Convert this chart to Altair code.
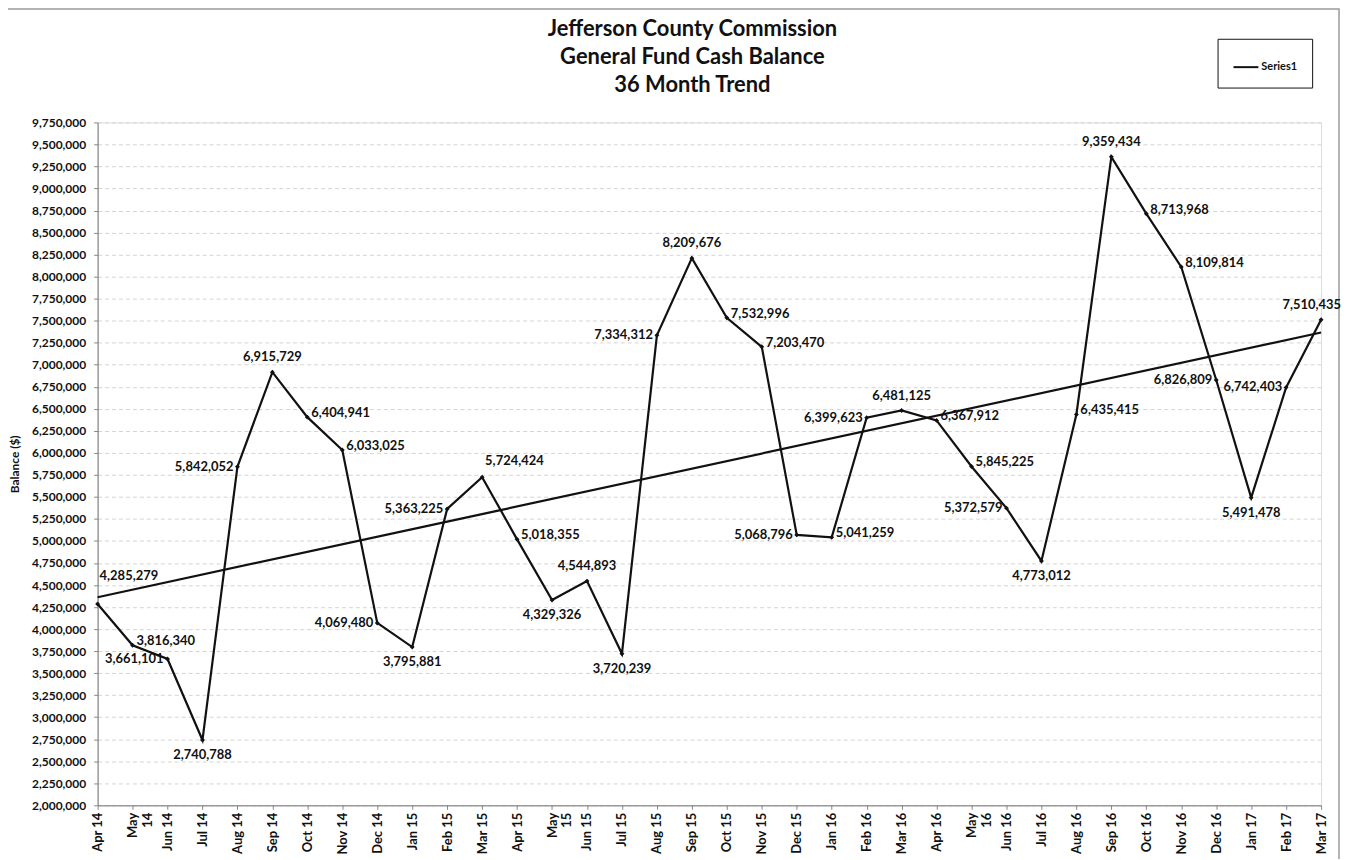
import altair as alt
import pandas as pd

months = ["Apr 14", "May 14", "Jun 14", "Jul 14", "Aug 14", "Sep 14", "Oct 14", "Nov 14",
          "Dec 14", "Jan 15", "Feb 15", "Mar 15", "Apr 15", "May 15", "Jun 15", "Jul 15",
          "Aug 15", "Sep 15", "Oct 15", "Nov 15", "Dec 15", "Jan 16", "Feb 16", "Mar 16",
          "Apr 16", "May 16", "Jun 16", "Jul 16", "Aug 16", "Sep 16", "Oct 16", "Nov 16",
          "Dec 16", "Jan 17", "Feb 17", "Mar 17"]

balance = [4285279, 3816340, 3661101, 2740788, 5842052, 6915729, 6404941, 6033025,
           4069480, 3795881, 5363225, 5724424, 5018355, 4329326, 4544893, 3720239,
           7334312, 8209676, 7532996, 7203470, 5068796, 5041259, 6399623, 6481125,
           6367912, 5845225, 5372579, 4773012, 6435415, 9359434, 8713968, 8109814,
           6826809, 5491478, 6742403, 7510435]

# where each data label sits relative to its point
label_side = ["high", "right", "left", "below", "left", "above", "right", "right",
              "left", "below", "left", "aboveright", "right", "below", "above", "below",
              "left", "above", "right", "right", "left", "right", "left", "above",
              "right", "right", "left", "below", "right", "above", "right", "right",
              "left", "below", "left", "aboveleft"]

series_name = "Series1"
title_lines = ["Jefferson County Commission", "General Fund Cash Balance", "36 Month Trend"]
y_ticks = list(range(2000000, 9750001, 250000))

df = pd.DataFrame({
    "idx": list(range(len(months))),
    "month": months,
    "value": balance,
    "side": label_side,
    "series": [series_name] * len(months),
})

FONT = "Lato"

def lab(m):
    parts = m.split(" ")
    if parts[0] == "May":
        return "['May','%s']" % parts[1]
    return "'%s'" % m

label_expr = "[" + ",".join(lab(m) for m in months) + "][datum.value]"

x_enc = alt.X("idx:Q",
              scale=alt.Scale(domain=[0, len(months) - 1], nice=False, zero=False),
              axis=alt.Axis(values=list(range(len(months))), labelExpr=label_expr,
                            labelAngle=-90, labelFont=FONT, labelFontSize=13,
                            labelFontWeight="bold", labelColor="#111", labelPadding=3,
                            tickSize=4, tickColor="#888", domainColor="#777",
                            grid=False, title=None, labelOverlap=False, labelLineHeight=15,
                            labelBound=False, labelFlush=False))

y_enc = alt.Y("value:Q",
              scale=alt.Scale(domain=[2000000, 9750000], nice=False, zero=False),
              axis=alt.Axis(values=y_ticks, format=",d", labelFont=FONT, labelFontSize=12,
                            labelFontWeight="bold", labelColor="#111", labelPadding=8,
                            tickSize=4, tickColor="#888", domainColor="#777",
                            grid=True, gridColor="#d4d4d4", gridDash=[4, 3], gridWidth=1,
                            title="Balance  ($)", titleFont=FONT, titleFontSize=12,
                            titleFontWeight="bold", titleColor="#111",
                            titleX=-83, titleY=343, titleAngle=-90,
                            titleAlign="center", titleBaseline="middle",
                            labelOverlap=False, labelFlush=False))

base = alt.Chart(df).encode(x=x_enc, y=y_enc)

line = base.mark_line(strokeWidth=2.2).encode(
    color=alt.Color("series:N", scale=alt.Scale(range=["#111"]),
                    legend=alt.Legend(title=None, orient="none", legendX=1125, legendY=-84,
                                      strokeColor="#111", fillColor="white", padding=15,
                                      symbolType="stroke", symbolSize=625,
                                      symbolStrokeWidth=2, symbolStrokeColor="#111",
                                      labelFont=FONT, labelFontSize=11,
                                      labelFontWeight="bold", labelColor="#111",
                                      labelOffset=2)),
)

pts = base.mark_point(filled=True, shape="diamond", size=24, color="#111", opacity=1)

trend = base.transform_regression("idx", "value", method="linear",
                                  extent=[0, len(months) - 1]).mark_line(
    color="#111", strokeWidth=2.2)

styles = {
    "above": dict(dx=0, dy=-15, align="center"),
    "aboveright": dict(dx=3, dy=-16, align="left"),
    "aboveleft": dict(dx=20, dy=-15, align="right"),
    "high": dict(dx=2, dy=-28, align="left"),
    "below": dict(dx=0, dy=15, align="center"),
    "left": dict(dx=-4, dy=0, align="right"),
    "right": dict(dx=4, dy=-4, align="left"),
}

text_layers = []
for side, st in styles.items():
    text_layers.append(
        base.transform_filter(alt.datum.side == side).mark_text(
            font=FONT, fontSize=13, fontWeight="bold", color="#111",
            baseline="middle", **st
        ).encode(text=alt.Text("value:Q", format=",d"))
    )

frame = alt.Chart(alt.Data(values=[{"a": 1}])).mark_rect(
    fill="transparent", stroke="#9a9a9a", strokeWidth=1.5).encode(
    x=alt.value(-91), x2=alt.value(1247), y=alt.value(-114), y2=alt.value(800))

chart = alt.layer(frame, trend, line, pts, *text_layers).properties(
    width=1229, height=686,
    title=alt.TitleParams(
        text=title_lines,
        font=FONT, fontSize=22, fontWeight="bold", color="#111",
        lineHeight=28, anchor="middle", dx=-17, offset=-89),
    autosize=alt.AutoSizeParams(type="none"),
    padding={"left": 90, "top": 113, "right": 20, "bottom": 52},
).configure_view(stroke=None).configure(background="white")

chart.save("out.html", embed_options={"renderer": "svg", "actions": False})
